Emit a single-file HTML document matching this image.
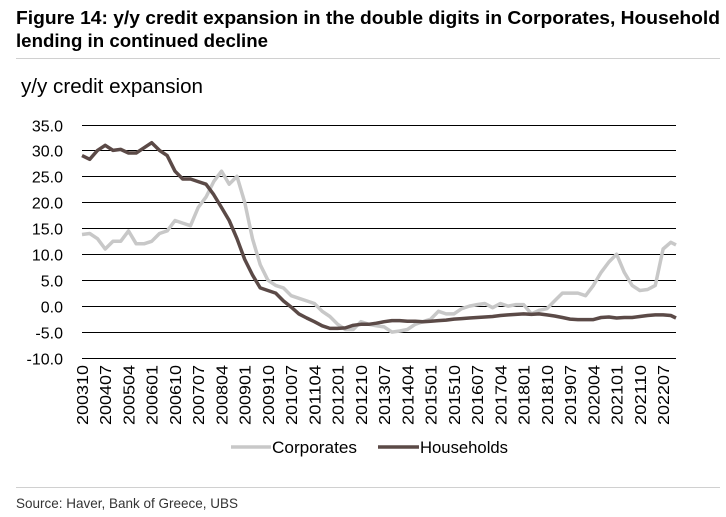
<!DOCTYPE html>
<html><head><meta charset="utf-8"><style>
html,body{margin:0;padding:0;background:#fff;}
svg{display:block;font-family:"Liberation Sans",sans-serif;}
</style></head><body>
<svg id="chart" width="726" height="517" viewBox="0 0 726 517" xmlns="http://www.w3.org/2000/svg">
<text x="16" y="24" font-size="18" font-weight="bold" textLength="704" lengthAdjust="spacingAndGlyphs" fill="#000">Figure 14: y/y credit expansion in the double digits in Corporates, Household</text>
<text x="16" y="47" font-size="18" font-weight="bold" textLength="252" lengthAdjust="spacingAndGlyphs" fill="#000">lending in continued decline</text>
<line x1="16" y1="58.5" x2="720" y2="58.5" stroke="#d0d0d0" stroke-width="1"/>
<text x="21" y="93" font-size="20" textLength="182" lengthAdjust="spacingAndGlyphs" fill="#000">y/y credit expansion</text>
<g id="grid"></g>
<g id="ylabels"></g>
<g id="xlabels"></g>
<g id="series"></g>
<g>
<line x1="231" y1="447" x2="271" y2="447" stroke="#c8c8c8" stroke-width="3.5"/>
<text x="272" y="453" font-size="17" textLength="85" lengthAdjust="spacingAndGlyphs">Corporates</text>
<line x1="378" y1="447" x2="419" y2="447" stroke="#5b4a47" stroke-width="3.5"/>
<text x="420" y="453" font-size="17" textLength="88" lengthAdjust="spacingAndGlyphs">Households</text>
</g>
<line x1="16" y1="487.5" x2="720" y2="487.5" stroke="#d0d0d0" stroke-width="1"/>
<text x="16" y="508" font-size="14" textLength="222" lengthAdjust="spacingAndGlyphs" fill="#333">Source: Haver, Bank of Greece, UBS</text>
</svg>
<script>
const yTicks = [35, 30, 25, 20, 15, 10, 5, 0, -5, -10];
const xTickLabels = ["200310","200407","200504","200601","200610","200707","200804","200901","200910","201007","201104","201201","201210","201307","201404","201501","201510","201607","201704","201801","201810","201907","202004","202101","202110","202207"];
// quarterly observations from 2003-10 through 2022-10, then 2022-12
const dates = ["200310",
"200401","200404","200407","200410","200501","200504","200507","200510",
"200601","200604","200607","200610","200701","200704","200707","200710",
"200801","200804","200807","200810","200901","200904","200907","200910",
"201001","201004","201007","201010","201101","201104","201107","201110",
"201201","201204","201207","201210","201301","201304","201307","201310",
"201401","201404","201407","201410","201501","201504","201507","201510",
"201601","201604","201607","201610","201701","201704","201707","201710",
"201801","201804","201807","201810","201901","201904","201907","201910",
"202001","202004","202007","202010","202101","202104","202107","202110",
"202201","202204","202207","202210","202212"];
const corporates = [13.8,
14,13,11,12.5, 12.5,14.5,12,12,
12.5,14,14.5,16.5, 16,15.5,19,21,
24,26,23.5,25, 20,13,8,5,
4,3.5,2,1.5, 1,0.5,-1,-2,
-3.5,-4.5,-4.5,-3, -3.5,-3.8,-4,-5,
-4.8,-4.5,-3.5,-3, -2.5,-1,-1.5,-1.5,
-0.5,0,0.3,0.5, -0.3,0.5,0,0.3,
0.3,-1.5,-0.8,-0.5, 1,2.5,2.5,2.5,
2,4,6.5,8.5, 10,6.5,4,3,
3.2,4,11,12.3,11.8];
const households = [29,
28.3,30,31,30, 30.2,29.5,29.5,30.5,
31.5,30,29,26, 24.5,24.5,24,23.5,
21.5,19,16.5,13, 9,6,3.5,3,
2.5,1,-0.2,-1.5, -2.3,-3,-3.8,-4.3,
-4.3,-4.2,-3.7,-3.5, -3.5,-3.3,-3,-2.8,
-2.8,-2.9,-2.9,-3, -2.9,-2.8,-2.7,-2.5,
-2.4,-2.3,-2.2,-2.1, -2,-1.8,-1.7,-1.6,
-1.5,-1.6,-1.5,-1.7, -1.9,-2.2,-2.5,-2.6,
-2.6,-2.6,-2.2,-2.1, -2.3,-2.2,-2.2,-2,
-1.8,-1.7,-1.7,-1.8,-2.3];

const NS = "http://www.w3.org/2000/svg";
const X0 = 82, X1 = 676, Y_TOP = 124.5, Y_BOT = 358;
function monthIndex(d){ const y=+d.slice(0,4), m=+d.slice(4,6); return (y-2003)*12 + (m-10); }
const M_MAX = 230;
function xScale(d){ return X0 + monthIndex(d)/M_MAX*(X1-X0); }
function yScale(v){ return Y_TOP + (35 - v)/45*(Y_BOT-Y_TOP); }
function mk(tag, attrs, parent){ const e=document.createElementNS(NS,tag); for(const k in attrs) e.setAttribute(k, attrs[k]); parent.appendChild(e); return e; }

const grid = document.getElementById('grid'), yl = document.getElementById('ylabels'), xl = document.getElementById('xlabels'), ser = document.getElementById('series');
yTicks.forEach(t => {
  const y = Math.round(yScale(t)) + 0.5;
  const l = mk('line', {x1:X0, x2:X1, y1:y, y2:y, stroke:'#000', 'stroke-width':1}, grid);
  
  
  const tx = mk('text', {x:63, y:y+6, 'font-size':16, 'text-anchor':'end', fill:'#000'}, yl);
  
  
  tx.textContent = t.toFixed(1);
});
xTickLabels.forEach(d => {
  const x = xScale(d);
  const tx = mk('text', {x:0, y:0, 'font-size':16, 'text-anchor':'end', textLength:60, lengthAdjust:'spacingAndGlyphs', transform:`translate(${x+6},${365}) rotate(-90)`, fill:'#000'}, xl);
  
  
  tx.textContent = d;
});
function drawLine(vals, color, name){
  const pts = vals.map((v,i) => xScale(dates[i]).toFixed(1)+','+yScale(v).toFixed(1)).join(' ');
  const p = mk('polyline', {points:pts, fill:'none', stroke:color, 'stroke-width':3.5, 'stroke-linejoin':'round'}, ser);
  
  
}
drawLine(corporates, '#c8c8c8', 'corporates-line');
drawLine(households, '#5b4a47', 'households-line');
</script>
</body></html>
